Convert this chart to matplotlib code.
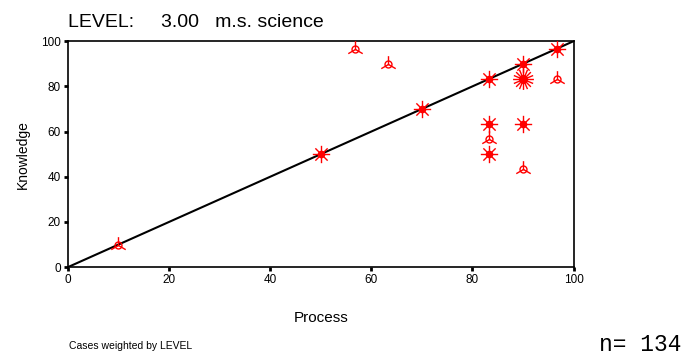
import numpy as np
import matplotlib
matplotlib.use('Agg')
import matplotlib.pyplot as plt
from matplotlib.path import Path

# sunflower plot data
process = [10, 50, 56.7, 63.3, 70, 83.3, 83.3, 83.3, 83.3, 90, 90, 90, 90, 96.7, 96.7]
knowledge = [10, 50, 96.7, 90, 70, 83.3, 63.3, 56.7, 50, 90, 83.3, 63.3, 43.3, 96.7, 83.3]
petals = [3, 8, 3, 3, 8, 8, 8, 3, 8, 8, 16, 8, 3, 8, 3]
ticks = [0, 20, 40, 60, 80, 100]

plt.rcParams['font.family'] = ['Liberation Sans', 'DejaVu Sans']


# marker made of n rays from the centre
def petal_marker(n):
    verts = []
    codes = []
    for i in range(n):
        a = np.pi / 2 + 2 * np.pi * i / n
        verts += [(0, 0), (np.cos(a), np.sin(a))]
        codes += [Path.MOVETO, Path.LINETO]
    return Path(verts, codes)


fig = plt.figure(figsize=(6.92, 3.64), dpi=100)
ax = fig.add_axes([0.098, 0.266, 0.731, 0.621])

ax.plot([0, 100], [0, 100], color='black', lw=1.5, zorder=2)

for x, y, n in zip(process, knowledge, petals):
    if n == 3:
        ax.plot(x, y, marker=petal_marker(3), ms=12, color='red', mew=1, zorder=3)
        ax.plot(x, y, marker='o', ms=5, mfc='none', color='red', mew=1, zorder=3)
    else:
        size = 15 if n > 8 else 12.5
        ax.plot(x, y, marker=petal_marker(n), ms=size, color='red', mew=1, zorder=3)
        ax.plot(x, y, marker='o', ms=5.5 if n > 8 else 4.5, color='red', zorder=3)

ax.set_xlim(0, 100)
ax.set_ylim(0, 100)
ax.set_xticks(ticks)
ax.set_yticks(ticks)
ax.tick_params(length=3, width=2, labelsize=8.5, pad=2, color='black')
for s in ax.spines.values():
    s.set_linewidth(1.2)

ax.set_xlabel('Process', fontsize=11, labelpad=18)
ax.set_ylabel('Knowledge', fontsize=10, labelpad=8)

fig.text(0.098, 0.925, 'LEVEL:     3.00   m.s. science', fontsize=14)
fig.text(0.1, 0.04, 'Cases weighted by LEVEL', fontsize=7.5)
fig.text(0.865, 0.035, 'n= 134', fontsize=16.5, family='Liberation Mono')

fig.savefig('out.png', dpi=100)
